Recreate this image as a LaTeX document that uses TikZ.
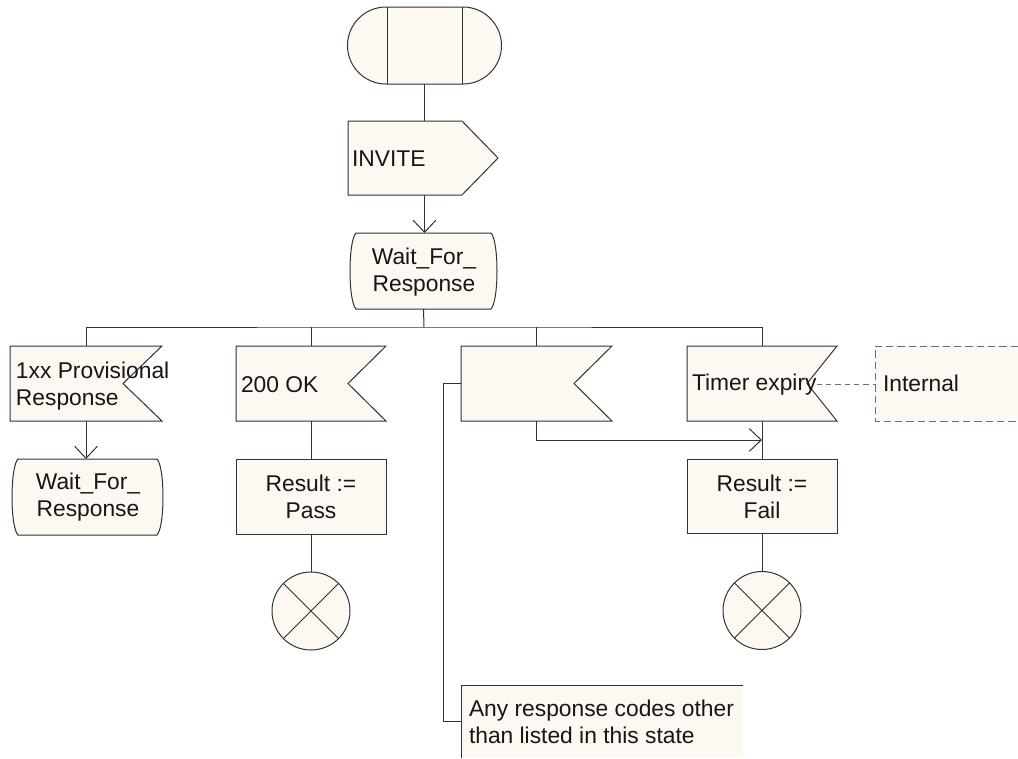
\documentclass[tikz,border=0pt]{standalone}
\usepackage{fontspec}
\setmainfont{Liberation Sans}
\usetikzlibrary{calc,arrows.meta,shapes.misc}
\definecolor{cream}{RGB}{253,248,242}
\definecolor{ink}{RGB}{22,22,22}
\definecolor{edge}{RGB}{50,50,50}
\definecolor{dashc}{RGB}{110,110,110}
\newcommand\statesym[1]{%
  \draw[shp] ($(#1.north west)+(6,0)$) -- ($(#1.north east)+(-6,0)$)
    .. controls ($(#1.north east)+(2,8)$) and ($(#1.south east)+(2,-8)$) .. ($(#1.south east)+(-6,0)$)
    -- ($(#1.south west)+(6,0)$)
    .. controls ($(#1.south west)+(-2,-8)$) and ($(#1.north west)+(-2,8)$) .. cycle;}
\newcommand\inputsym[2]{%
  \draw[shp] (#1.north west) -- (#1.north east) -- ($(#1.east)+(-#2,0)$) -- (#1.south east) -- (#1.south west) -- cycle;}
\tikzset{
  box/.style 2 args={inner sep=0pt,outer sep=0pt,minimum width=#1*0.75pt,minimum height=#2*0.75pt},
  shp/.style={draw=edge,fill=cream,line width=0.75pt},
  conn/.style={draw=edge,line width=0.75pt},
  arr/.style={conn,-{Straight Barb[length=9pt,width=17pt]}},
  txt/.style={font=\fontsize{17.1}{19.6}\selectfont,text=ink,inner sep=0pt,outer sep=0pt},
}
\begin{document}
\begin{tikzpicture}[x=0.75pt,y=-0.75pt]
\path[use as bounding box] (0,0) rectangle (1018,758);
% start symbol
\node[rounded rectangle,shp,box={154}{77}] (start) at (424.5,45.5) {};
\draw[conn] ($(start.north)+(-37.5,0)$) -- ($(start.south)+(-37.5,0)$);
\draw[conn] ($(start.north)+(37.5,0)$) -- ($(start.south)+(37.5,0)$);
% INVITE output
\node[box={150}{74}] (out) at (423,158) {};
\draw[shp] (out.north west) -- ($(out.north east)+(-36,0)$) -- (out.east) -- ($(out.south east)+(-36,0)$) -- (out.south west) -- cycle;
\node[txt,anchor=base west] (tout) at (352,166) {INVITE};
% state Wait_For_Response
\node[box={147}{76}] (st1) at (423.5,271) {};
\statesym{st1}
\node[txt,align=center,anchor=base] (tst1) at (424,291) {Wait\_For\_\\Response};
% inputs
\node[box={152}{75}] (in1) at (86,383.5) {};
\inputsym{in1}{39}
\node[txt,align=left,anchor=base west] (tin1) at (16,405) {1xx Provisional\\Response};
\node[box={150}{75}] (in2) at (311,383.5) {};
\inputsym{in2}{38}
\node[txt,anchor=base west] (tin2) at (241,392) {200 OK};
\node[box={151}{75}] (in3) at (536.5,383.5) {};
\inputsym{in3}{38}
\node[box={150}{75}] (in4) at (762,383.5) {};
\inputsym{in4}{30}
\node[txt,anchor=base west] (tin4) at (692,390) {Timer expiry};
% internal comment
\node[box={143}{75}] (int) at (946.5,383.5) {};
\fill[cream] (int.north west) rectangle (int.south east);
\draw[conn,draw=dashc,dash pattern=on 5.5pt off 3pt] (int.north east) -- (int.north west) -- (int.south west) -- (int.south east);
\node[txt,anchor=base west] (tint) at (883,391) {Internal};
\draw[conn,draw=dashc,dash pattern=on 4pt off 3pt] (tin4.east) -- (tin4.east -| int.west);
% second state
\node[box={151}{76}] (st2) at (87.5,497) {};
\statesym{st2}
\node[txt,align=center,anchor=base] (tst2) at (88,516) {Wait\_For\_\\Response};
% tasks
\node[shp,box={150}{75}] (task1) at (311,496.5) {};
\node[txt,align=center,anchor=base] (ttask1) at (311,518) {Result :=\\Pass};
\node[shp,box={150}{74}] (task2) at (762,496) {};
\node[txt,align=center,anchor=base] (ttask2) at (762,518) {Result :=\\Fail};
% stops
\node[circle,shp,inner sep=0pt,outer sep=0pt,minimum size=78*0.75pt] (stop1) at (311,611) {};
\draw[conn] (stop1.north west) -- (stop1.south east) (stop1.north east) -- (stop1.south west);
\node[circle,shp,inner sep=0pt,outer sep=0pt,minimum size=78*0.75pt] (stop2) at (762,610.5) {};
\draw[conn] (stop2.north west) -- (stop2.south east) (stop2.north east) -- (stop2.south west);
% comment
\node[box={282}{73}] (cmt) at (602,721.5) {};
\fill[cream] (cmt.north west) rectangle (cmt.south east);
\draw[conn] (cmt.south west) -- (cmt.north west) -- (cmt.north east);
\node[txt,align=left,anchor=base west] (tcmt) at (469,743) {Any response codes other\\than listed in this state};
% connectors
\coordinate (bus) at (424,327);
\coordinate (merge) at (762,440);
\draw[conn] (start.south) -- (start.south |- out.north);
\draw[arr] (start.south |- out.south) -- (start.south |- st1.north);
\draw[conn] (st1.south) -- (bus);
\draw[conn] (in1.north) |- (bus) -| (in4.north);
\draw[conn] (in2.north) -- (in2.north |- bus);
\draw[conn] (in3.north) -- (in3.north |- bus);
\draw[arr] (in1.south) -- (in1.south |- st2.north);
\draw[conn] (in2.south) -- (task1.north);
\draw[conn] (task1.south) -- (stop1.north);
\draw[arr] (in3.south) |- (merge);
\draw[conn] (in4.south) -- (task2.north);
\draw[conn] (task2.south) -- (stop2.north);
\draw[conn] (in3.west) -- ($(in3.west)+(-18,0)$) |- (cmt.west);
\end{tikzpicture}
\end{document}
